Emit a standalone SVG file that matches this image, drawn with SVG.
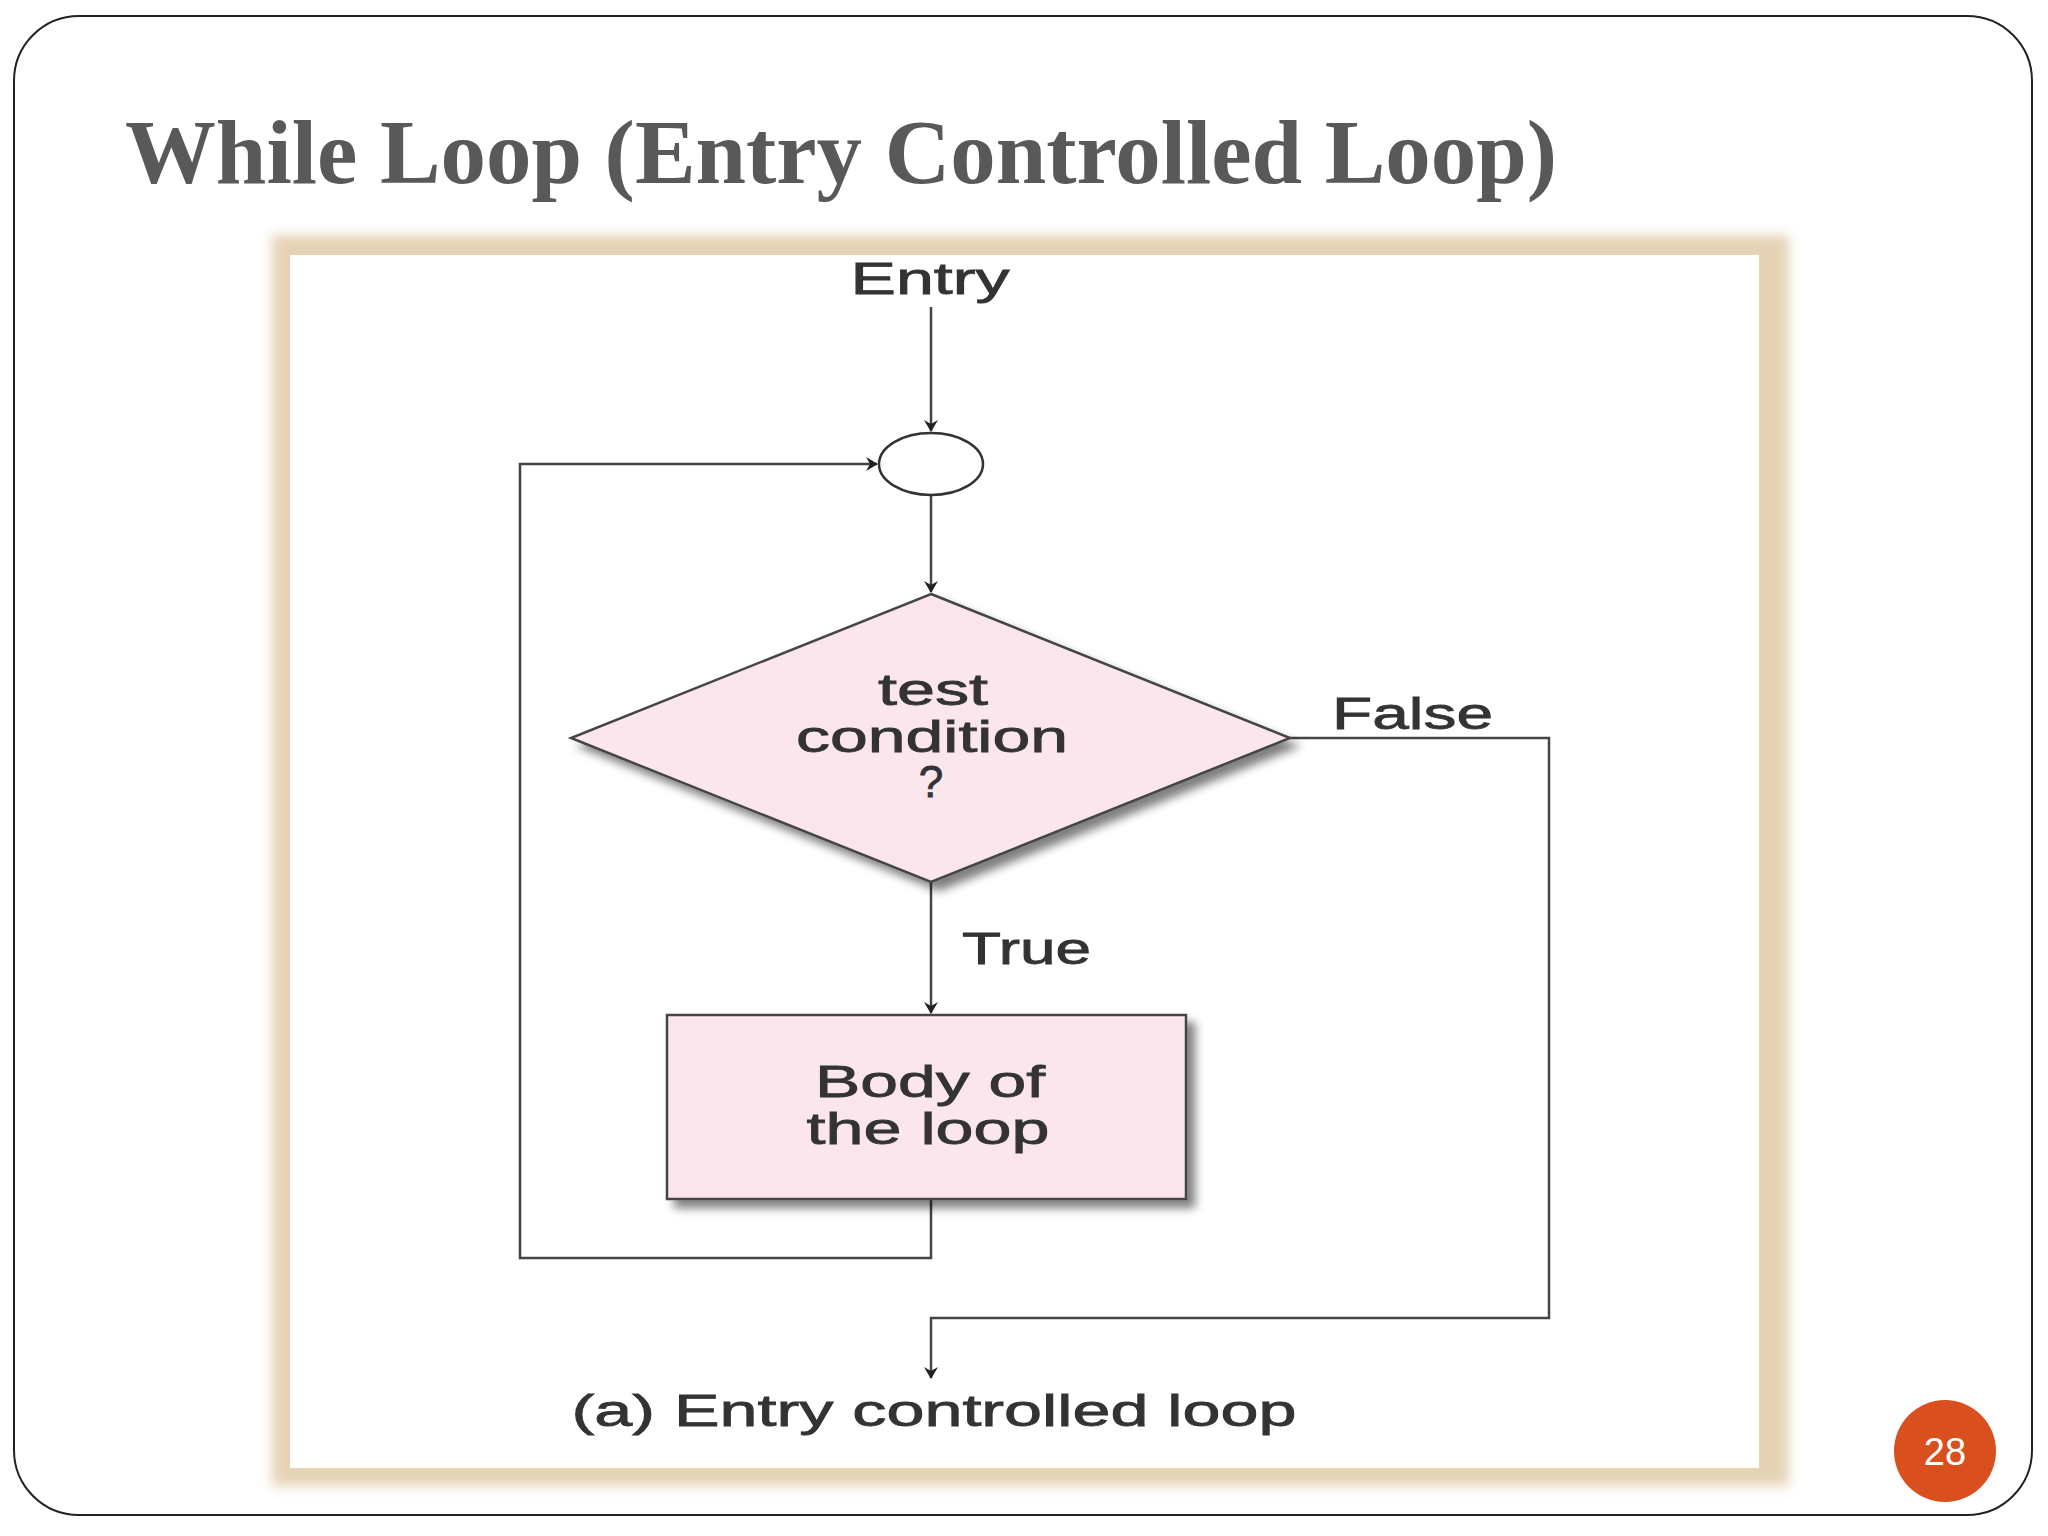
<svg xmlns="http://www.w3.org/2000/svg" width="2048" height="1536" viewBox="0 0 2048 1536">
<defs>
<marker id="ah" markerWidth="12" markerHeight="14" refX="11" refY="7" orient="auto" markerUnits="userSpaceOnUse"><path d="M0,0 L12,7 L0,14 L4,7 Z" fill="#222"/></marker>
<filter id="sh" x="-10%" y="-10%" width="130%" height="130%"><feGaussianBlur in="SourceAlpha" stdDeviation="5"/><feOffset dx="8" dy="8"/><feComponentTransfer><feFuncA type="linear" slope="0.5"/></feComponentTransfer><feMerge><feMergeNode/><feMergeNode in="SourceGraphic"/></feMerge></filter>
<filter id="bl"><feGaussianBlur stdDeviation="6"/></filter>
</defs>
<style>
.t{font-family:"Liberation Sans",Arial,sans-serif;font-size:44px;fill:#333;stroke:#333;stroke-width:0.8;text-anchor:middle}
.s{text-anchor:start}
.c{fill:none;stroke:#444;stroke-width:2.5}
</style>
<rect width="2048" height="1536" fill="#fff"/>
<rect x="14" y="16" width="2018" height="1499" rx="65" fill="#fff" stroke="#222" stroke-width="2"/>
<text x="125" y="183" font-family="'Liberation Serif',serif" font-weight="bold" font-size="90" fill="#595959" textLength="1432" lengthAdjust="spacingAndGlyphs">While Loop (Entry Controlled Loop)</text>
<rect x="272" y="235" width="1517" height="1251" fill="#e5d3b5" filter="url(#bl)"/>
<rect x="290" y="255" width="1469" height="1213" fill="#fff"/>
<g id="connectors">
<line class="c" x1="931" y1="307" x2="931" y2="431" marker-end="url(#ah)"/>
<line class="c" x1="931" y1="495" x2="931" y2="592" marker-end="url(#ah)"/>
<line class="c" x1="931" y1="882" x2="931" y2="1013" marker-end="url(#ah)"/>
<polyline class="c" points="931,1199 931,1258 520,1258 520,464 877,464" marker-end="url(#ah)"/>
<polyline class="c" points="1290,738 1549,738 1549,1318 931,1318 931,1378" marker-end="url(#ah)"/>
</g>
<g id="entry"><text class="t" x="930" y="294" textLength="159" lengthAdjust="spacingAndGlyphs">Entry</text></g>
<g id="junction"><ellipse cx="931" cy="464" rx="52" ry="31" fill="#fff" stroke="#333" stroke-width="2.5"/></g>
<g id="decision">
<polygon points="931,594 1290,738 931,882 571,738" fill="#fbe6ee" stroke="#444" stroke-width="2.5" filter="url(#sh)"/>
<text class="t" x="933" y="705" textLength="110" lengthAdjust="spacingAndGlyphs">test</text>
<text class="t" x="932" y="752" textLength="272" lengthAdjust="spacingAndGlyphs">condition</text>
<text class="t" x="931" y="797">?</text>
</g>
<g id="labels">
<text class="t s" x="1332" y="729" textLength="161" lengthAdjust="spacingAndGlyphs">False</text>
<text class="t s" x="962" y="964" textLength="129" lengthAdjust="spacingAndGlyphs">True</text>
</g>
<g id="body">
<rect x="667" y="1015" width="519" height="184" fill="#fbe6ee" stroke="#444" stroke-width="2.5" filter="url(#sh)"/>
<text class="t" x="930" y="1097" textLength="230" lengthAdjust="spacingAndGlyphs">Body of</text>
<text class="t" x="928" y="1144" textLength="243" lengthAdjust="spacingAndGlyphs">the loop</text>
</g>
<g id="caption"><text class="t" x="934" y="1426" textLength="725" lengthAdjust="spacingAndGlyphs">(a) Entry controlled loop</text></g>
<g id="page"><circle cx="1945" cy="1451" r="51" fill="#d94f1e"/><text x="1945" y="1465" font-family="'Liberation Sans',sans-serif" font-size="38" fill="#fff" text-anchor="middle">28</text></g>
</svg>
